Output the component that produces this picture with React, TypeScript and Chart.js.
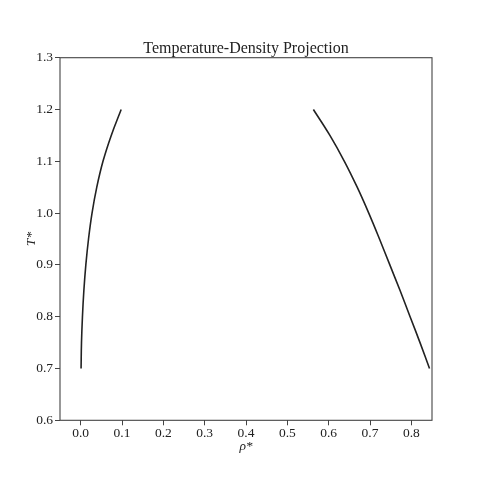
import React, { useEffect, useRef } from "react";
import { Chart, registerables } from "chart.js";

Chart.register(...registerables);

const temperatures = [0.7, 0.75, 0.8, 0.85, 0.9, 0.95, 1.0, 1.05, 1.1, 1.15, 1.2];
const vaporDensity = [0.001, 0.002, 0.0043, 0.0077, 0.0125, 0.019, 0.0275, 0.039, 0.054, 0.074, 0.098];
const liquidDensity = [0.844, 0.821, 0.797, 0.773, 0.748, 0.723, 0.697, 0.669, 0.638, 0.603, 0.563];

const xTickValues = [0, 0.1, 0.2, 0.3, 0.4, 0.5, 0.6, 0.7, 0.8];
const yTickValues = [0.6, 0.7, 0.8, 0.9, 1.0, 1.1, 1.2, 1.3];

const titleText = "Temperature-Density Projection";
const xLabel = "ρ*";
const yLabel = "T*";

const FONT = "'Liberation Serif', 'DejaVu Serif', serif";
const INK = "#222222";
const SPINE = "#444444";

const frame = {
  id: "frame",
  afterDatasetsDraw(chart: any) {
    const { ctx, chartArea } = chart;
    ctx.save();
    ctx.strokeStyle = SPINE;
    ctx.lineWidth = 1.1;
    ctx.strokeRect(chartArea.left, chartArea.top, chartArea.right - chartArea.left, chartArea.bottom - chartArea.top);
    ctx.fillStyle = INK;
    ctx.font = `normal 16px ${FONT}`;
    ctx.textAlign = "center";
    ctx.textBaseline = "alphabetic";
    ctx.fillText(titleText, (chartArea.left + chartArea.right) / 2, chartArea.top - 5);
    ctx.restore();
  },
};

export default function App() {
  const ref = useRef<HTMLCanvasElement | null>(null);

  useEffect(() => {
    if (!ref.current) return;
    const chart = new Chart(ref.current, {
      type: "scatter",
      data: {
        datasets: [
          {
            label: "vapor",
            data: temperatures.map((t, i) => ({ x: vaporDensity[i], y: t })),
            showLine: true,
            borderColor: INK,
            borderWidth: 1.6,
            pointRadius: 0,
            tension: 0.4,
          },
          {
            label: "liquid",
            data: temperatures.map((t, i) => ({ x: liquidDensity[i], y: t })),
            showLine: true,
            borderColor: INK,
            borderWidth: 1.6,
            pointRadius: 0,
            tension: 0.4,
          },
        ],
      },
      options: {
        responsive: false,
        animation: false,
        layout: { padding: { left: 0, right: 48, top: 57.7, bottom: 0 } },
        plugins: {
          legend: { display: false },
          tooltip: { enabled: false },
          title: { display: false },
        },
        scales: {
          x: {
            type: "linear",
            min: -0.05,
            max: 0.85,
            afterBuildTicks: (scale: any) => {
              scale.ticks = xTickValues.map((v) => ({ value: v }));
            },
            afterFit: (scale: any) => {
              scale.height = 59.7;
            },
            grid: { display: true, drawOnChartArea: false, tickLength: 5, color: SPINE, tickWidth: 1 },
            border: { display: false },
            ticks: {
              color: INK,
              padding: 0,
              font: { family: FONT, size: 13.5 },
              callback: (v: any) => Number(v).toFixed(1),
            },
            title: {
              display: true,
              text: xLabel,
              color: INK,
              font: { family: FONT, size: 13.5, style: "italic" },
              padding: { top: 0, bottom: 25 },
            },
          },
          y: {
            type: "linear",
            min: 0.6,
            max: 1.3,
            afterBuildTicks: (scale: any) => {
              scale.ticks = yTickValues.map((v) => ({ value: v }));
            },
            afterFit: (scale: any) => {
              scale.width = 60;
            },
            grid: { display: true, drawOnChartArea: false, tickLength: 5, color: SPINE, tickWidth: 1 },
            border: { display: false },
            ticks: {
              color: INK,
              padding: 2,
              font: { family: FONT, size: 13.5 },
              callback: (v: any) => Number(v).toFixed(1),
            },
            title: {
              display: true,
              text: yLabel,
              color: INK,
              font: { family: FONT, size: 13.5, style: "italic" },
              padding: { top: 23, bottom: 0 },
            },
          },
        },
      },
      plugins: [frame],
    });
    return () => chart.destroy();
  }, []);

  return (
    <div style={{ position: "absolute", left: 0, top: 0, width: 480, height: 480, background: "#fff" }}>
      <canvas ref={ref} width={480} height={480} style={{ width: 480, height: 480 }} />
    </div>
  );
}
